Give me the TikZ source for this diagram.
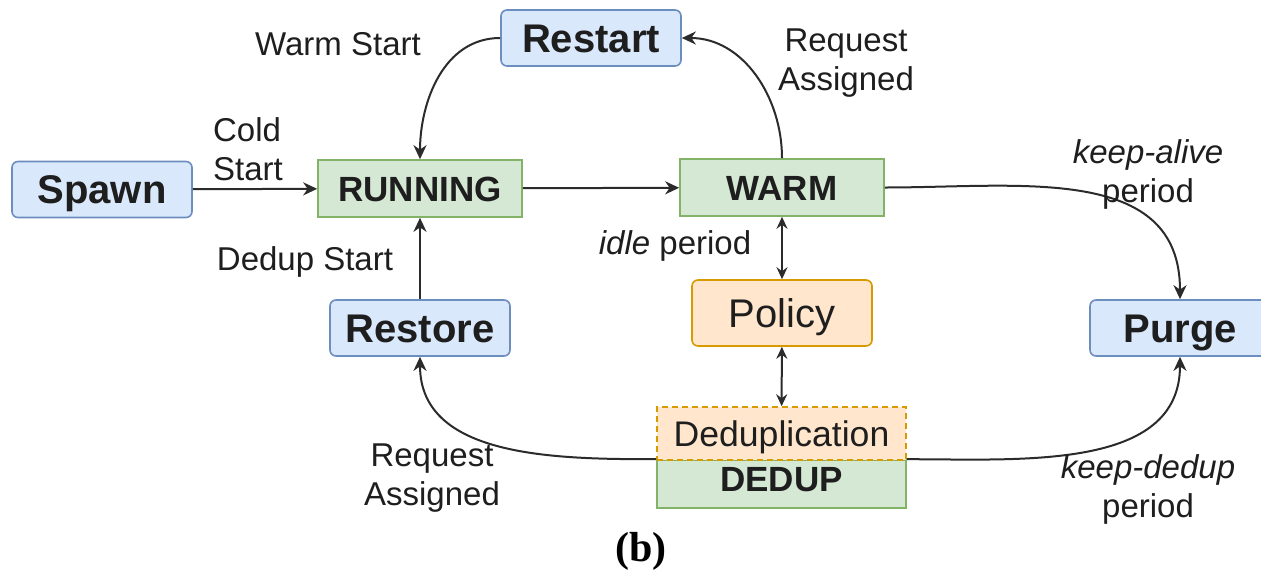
\documentclass[tikz,border=0pt]{standalone}
\usepackage{fontspec}
\setmainfont{Liberation Sans}
\newfontfamily\capfont{Liberation Serif}
\usetikzlibrary{arrows.meta}
\definecolor{bfill}{HTML}{DAE8FC}
\definecolor{bdraw}{HTML}{6C8EBF}
\definecolor{gfill}{HTML}{D5E8D4}
\definecolor{gdraw}{HTML}{82B366}
\definecolor{ofill}{HTML}{FFE6CC}
\definecolor{odraw}{HTML}{D79B00}
\definecolor{linec}{HTML}{2B2B2B}
\definecolor{txtc}{HTML}{1E1E1E}
\begin{document}
\begin{tikzpicture}[x=0.5pt,y=-0.5pt,
  box/.style={inner sep=0pt, line width=0.8pt, text=txtc, text depth=0pt},
  bluebox/.style={box, draw=bdraw, fill=bfill, rounded corners=3pt, text height=14.3pt,
    minimum width=90pt, minimum height=28pt, font=\bfseries\fontsize{20}{24}\selectfont},
  greenbox/.style={box, draw=gdraw, fill=gfill, text height=12.5pt,
    minimum width=102pt, minimum height=28.5pt, font=\bfseries\fontsize{17.5}{21}\selectfont},
  orangebox/.style={box, draw=odraw, fill=ofill, rounded corners=3pt, text height=14.3pt,
    minimum width=90pt, minimum height=33pt, font=\fontsize{20}{24}\selectfont},
  lbl/.style={inner sep=0pt, text=txtc, align=center, font=\fontsize{16.5}{19.5}\selectfont},
  arr/.style={draw=linec, line width=1pt, -{Stealth[length=7pt,width=6.5pt,inset=2.2pt]}},
  darr/.style={draw=linec, line width=1pt, {Stealth[length=6pt,width=5.5pt,inset=2pt]}-{Stealth[length=6pt,width=5.5pt,inset=2pt]}}
]
\useasboundingbox (0,0) rectangle (1261,573);

% state boxes
\node[bluebox] (spawn) at (102,189.5) {Spawn};
\node[greenbox] (running) at (420,188.5) {RUNNING};
\node[greenbox] (warm) at (782,187.5) {WARM};
\node[bluebox] (restart) at (591,38) {Restart};
\node[bluebox] (restore) at (420,328) {Restore};
\node[orangebox] (policy) at (782,313) {Policy};
\node[bluebox] (purge) at (1180,328) {Purge};
\node[box, draw=gdraw, fill=gfill, minimum width=124.5pt, minimum height=24pt,
      text height=12.5pt, text depth=5pt, font=\bfseries\fontsize{17.5}{21}\selectfont] (dedup) at (781.5,484) {DEDUP};
\node[box, draw=odraw, fill=ofill, dash pattern=on 3pt off 2pt, minimum width=124.5pt,
      minimum height=26.5pt, text height=12.8pt, font=\fontsize{17.8}{21}\selectfont] (dedupl) at (781.5,433.5) {Deduplication};

% transitions
\draw[arr] (spawn) -- (running);
\draw[arr] (running) -- (warm);
\draw[arr] (restart.west) to[out=180,in=90] (running.north);
\draw[arr] (warm.north) to[out=90,in=0] (restart.east);
\draw[arr] (warm.east) to[out=0,in=90,looseness=1.1] (purge.north);
\draw[darr] (warm) -- (policy);
\draw[darr] (policy) -- (dedupl);
\draw[arr] (restore) -- (running);
\draw[arr] (dedup.north west) to[out=180,in=-90] (restore.south);
\draw[arr] (dedup.north east) to[out=0,in=-90] (purge.south);

% transition labels
\node[lbl, align=left] (lcold) at (248,149) {Cold\\Start};
\node[lbl] (lwarm) at (338,44) {Warm Start};
\node[lbl] (lreq1) at (846,63) {Request\\Assigned};
\node[lbl] (lalive) at (1148,174) {\itshape keep-alive\\period};
\node[lbl] (lidle) at (675,246) {\itshape idle\upshape{} period};
\node[lbl] (ldedup) at (305,262) {Dedup Start};
\node[lbl] (lreq2) at (432,478.5) {Request\\Assigned};
\node[lbl] (lkeep) at (1148,489.5) {\itshape keep-dedup\\period};

% caption
\node[inner sep=0pt, text=black, font=\capfont\bfseries\fontsize{21}{24}\selectfont] (cap) at (641,551) {(b)};
\end{tikzpicture}
\end{document}
